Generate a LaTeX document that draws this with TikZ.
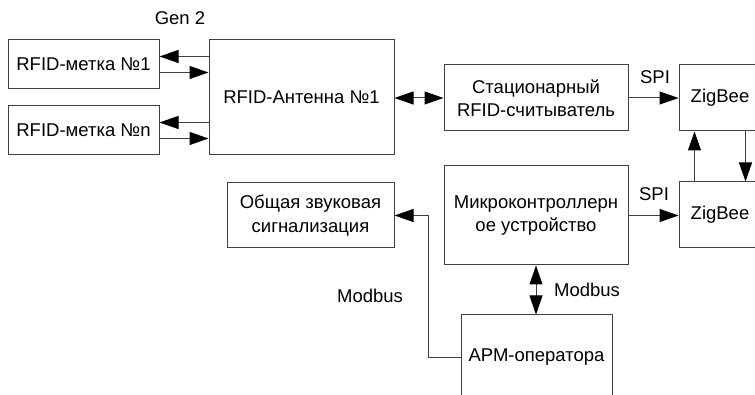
\documentclass[tikz,border=0pt]{standalone}
\usepackage{fontspec}
\setmainfont{Liberation Sans}
\usetikzlibrary{arrows.meta}

\begin{document}
\begin{tikzpicture}[x=1pt,y=-1pt,
  box/.style={draw=black!75, line width=1pt, inner sep=0pt, align=center,
    font=\fontsize{18.5}{23.5}\selectfont},
  lbl/.style={inner sep=0pt, font=\fontsize{18.5}{22}\selectfont},
  arr/.style={draw=black!75, line width=1pt,
    -{Triangle[length=19pt,width=13pt,color=black,fill=black]}},
  darr/.style={draw=black!75, line width=1pt,
    {Triangle[length=19pt,width=13pt,color=black,fill=black]}-{Triangle[length=19pt,width=13pt,color=black,fill=black]}}]
\useasboundingbox (0,0) rectangle (755,395);
\clip (0,0) rectangle (755,395);

% blocks
\node[box, minimum width=151pt, minimum height=49pt] (tag1) at (83.5,64.5) {RFID-метка №1};
\node[box, minimum width=151pt, minimum height=49pt] (tagn) at (83.5,130.5) {RFID-метка №n};
\node[box, minimum width=185pt, minimum height=115pt] (ant) at (301.5,97.5) {RFID-Антенна №1};
\node[box, minimum width=184pt, minimum height=66pt] (rdr) at (536,98) {Стационарный\\RFID-считыватель};
\node[box, minimum width=82pt, minimum height=66pt] (zb1) at (720,98) {ZigBee};
\node[box, minimum width=82pt, minimum height=66pt] (zb2) at (720,215) {ZigBee};
\node[box, minimum width=184pt, minimum height=99pt] (mcu) at (536,215.5) {Микроконтроллерн\\ое устройство};
\node[box, minimum width=167pt, minimum height=65pt] (alarm) at (310.5,215.5) {Общая звуковая\\сигнализация};
\node[box, minimum width=151pt, minimum height=85pt] (apm) at (536.5,357.5) {АРМ-оператора};

% labels
\node[lbl] (gen) at (180,18) {Gen 2};
\node[lbl] (spi1) at (655,77) {SPI};
\node[lbl] (spi2) at (654,194) {SPI};
\node[lbl] (mb1) at (587,290) {Modbus};
\node[lbl] (mb2) at (370,296) {Modbus};

% tag links
\draw[arr] ([yshift=8pt]tag1.east -| ant.west) -- ([yshift=8pt]tag1.east);
\draw[arr] ([yshift=-8pt]tag1.east) -- ([yshift=-8pt]tag1.east -| ant.west);
\draw[arr] ([yshift=8pt]tagn.east -| ant.west) -- ([yshift=8pt]tagn.east);
\draw[arr] ([yshift=-8pt]tagn.east) -- ([yshift=-8pt]tagn.east -| ant.west);

% antenna and reader
\draw[darr] (ant.east |- rdr.west) -- (rdr.west);

% SPI links
\draw[arr] (rdr.east) -- (zb1.west);
\draw[arr] (mcu.east) -- (mcu.east -| zb2.west);

% radio link between ZigBee modules
\draw[arr] ([xshift=16pt]zb2.north west) -- ([xshift=16pt]zb1.south west);
\draw[arr] ([xshift=67pt]zb1.south west) -- ([xshift=67pt]zb2.north west);

% Modbus links
\draw[darr] (mcu.south) -- (mcu.south |- apm.north);
\coordinate (bend) at (428,216);
\draw[arr] (apm.west) -- (apm.west -| bend) |- (alarm.east);
\end{tikzpicture}
\end{document}
